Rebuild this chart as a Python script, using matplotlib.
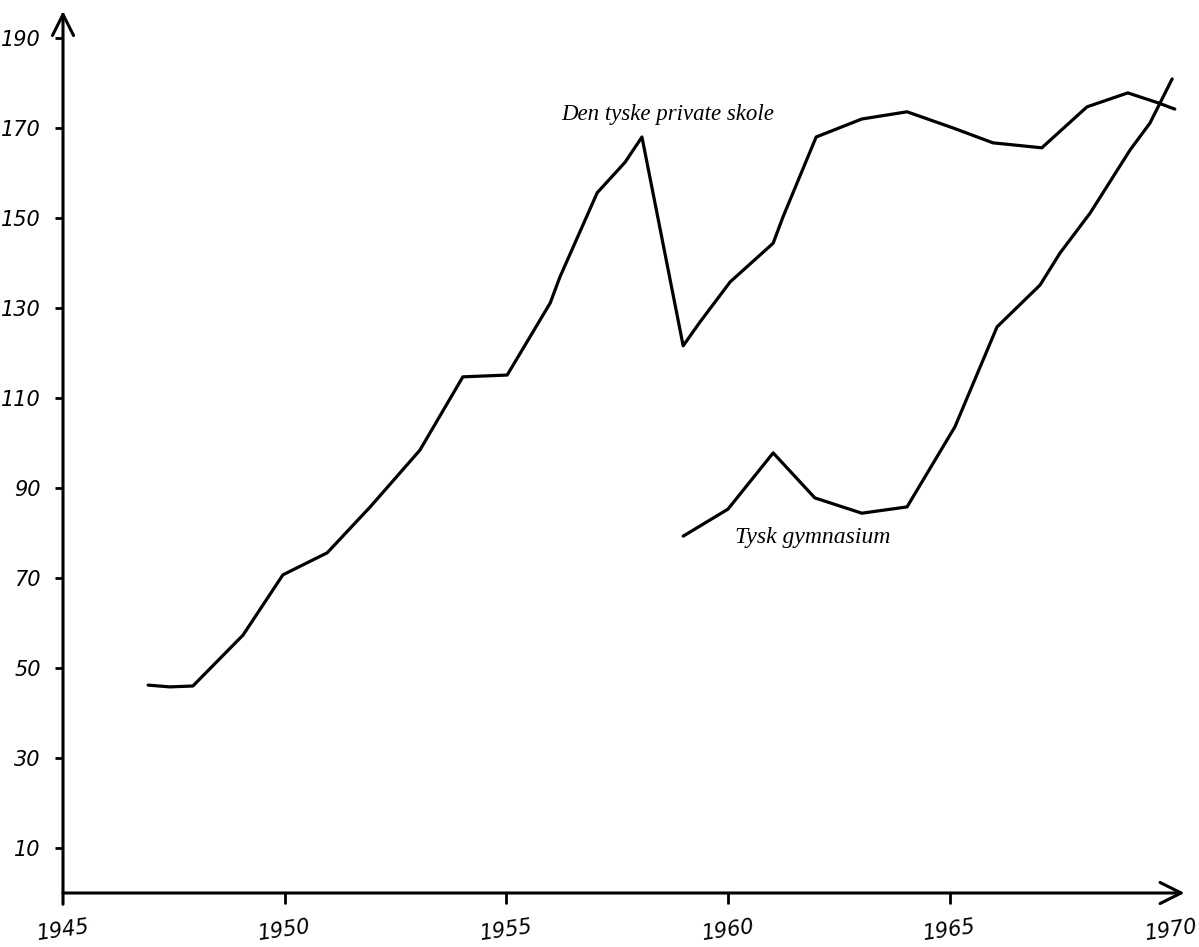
import matplotlib
matplotlib.use("Agg")
import matplotlib.pyplot as plt

# Den tyske private skole
private_years = [1946.92, 1947.41, 1947.93, 1949.06, 1949.96, 1950.96, 1951.93, 1953.05,
                 1954.02, 1955.02, 1955.99, 1956.21, 1957.05, 1957.68, 1958.06, 1958.99,
                 1959.37, 1960.05, 1961.02, 1961.24, 1961.99, 1963.02, 1964.04, 1965.08,
                 1965.98, 1967.08, 1968.10, 1969.02, 1969.70, 1970.08]
private_values = [46.2, 45.8, 46.0, 57.3, 70.7, 75.6, 85.8, 98.4,
                  114.7, 115.1, 131.1, 136.9, 155.6, 162.4, 168.0, 121.6,
                  126.9, 135.8, 144.4, 150.2, 168.0, 172.0, 173.6, 170.0,
                  166.7, 165.6, 174.7, 177.8, 175.6, 174.2]

# Tysk gymnasium
gym_years = [1958.99, 1960.00, 1961.02, 1961.96, 1963.02, 1964.04, 1965.12, 1966.07,
             1967.04, 1967.49, 1968.17, 1969.07, 1969.52, 1970.02]
gym_values = [79.3, 85.3, 97.8, 87.8, 84.4, 85.8, 103.6, 125.8,
              135.1, 142.2, 151.1, 165.1, 171.1, 180.9]

y_ticks = [10, 30, 50, 70, 90, 110, 130, 150, 170, 190]
x_ticks = [1945, 1950, 1955, 1960, 1965, 1970]

W, H = 1199, 947
fig = plt.figure(figsize=(W / 100, H / 100), dpi=100)
px_per_year = 44.33
px_per_unit = 4.5
x0_px, y0_px = 63, 893
xmin, xmax = 1945, 1971
ymin, ymax = 0, 196
ax = fig.add_axes([x0_px / W, (H - y0_px) / H,
                   (xmax - xmin) * px_per_year / W, (ymax - ymin) * px_per_unit / H])
ax.set_xlim(xmin, xmax)
ax.set_ylim(ymin, ymax)
for s in ax.spines.values():
    s.set_visible(False)

# axes with arrows
ax.annotate("", xy=(1945, 196.0), xytext=(1945, -2.5),
            arrowprops=dict(arrowstyle="->", lw=2.2, color="black", mutation_scale=38,
                            shrinkA=0, shrinkB=0), annotation_clip=False)
ax.annotate("", xy=(1970.3, 0), xytext=(1945, 0),
            arrowprops=dict(arrowstyle="->", lw=2.2, color="black", mutation_scale=38,
                            shrinkA=0, shrinkB=0), annotation_clip=False)

ax.set_yticks(y_ticks)
ax.set_yticklabels([str(v) for v in y_ticks], fontsize=15, style="italic",
                   family="DejaVu Sans")
ax.set_xticks(x_ticks)
ax.set_xticklabels([str(v) for v in x_ticks], fontsize=15, style="italic",
                   family="DejaVu Sans", rotation=8)
ax.tick_params(axis="y", direction="out", length=6, width=2, pad=10)
ax.tick_params(axis="x", direction="out", length=8, width=2, pad=9)
xt = ax.xaxis.get_major_ticks()
xt[0].tick1line.set_visible(False)
xt[-1].tick1line.set_visible(False)

ax.plot(private_years, private_values, color="black", lw=2.3, solid_joinstyle="round",
        solid_capstyle="round", clip_on=False)
ax.plot(gym_years, gym_values, color="black", lw=2.3, solid_joinstyle="round",
        solid_capstyle="round", clip_on=False)

ax.text(1958.64, 172.9, "Den tyske private skole", fontsize=16.5, style="italic",
        family="Liberation Serif", ha="center", va="center")
ax.text(1961.92, 79.1, "Tysk gymnasium", fontsize=17, style="italic",
        family="Liberation Serif", ha="center", va="center")

fig.savefig("out.png", dpi=100, facecolor="white")
